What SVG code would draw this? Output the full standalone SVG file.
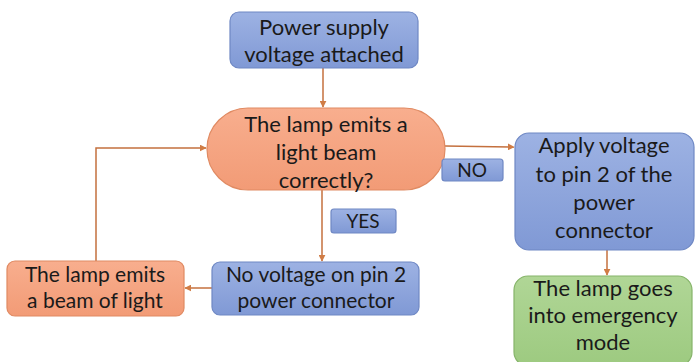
<svg xmlns="http://www.w3.org/2000/svg" width="696" height="362" viewBox="0 0 696 362">
<defs>
<linearGradient id="gBlue" x1="0" y1="0" x2="0" y2="1"><stop offset="0" stop-color="#9DB2E3"/><stop offset="1" stop-color="#8099D5"/></linearGradient>
<linearGradient id="gOrange" x1="0" y1="0" x2="0" y2="1"><stop offset="0" stop-color="#F8AE8E"/><stop offset="1" stop-color="#F29B76"/></linearGradient>
<linearGradient id="gGreen" x1="0" y1="0" x2="0" y2="1"><stop offset="0" stop-color="#B0D696"/><stop offset="1" stop-color="#9DCA80"/></linearGradient>
<marker id="arr" viewBox="0 0 10 10" refX="9" refY="5" markerWidth="7" markerHeight="7" orient="auto" markerUnits="userSpaceOnUse"><path d="M0,0 L10,5 L0,10 z" fill="#D07C45"/></marker>
<style>
.blue{fill:url(#gBlue);stroke:#6F88C4;stroke-width:1.2}
.orange{fill:url(#gOrange);stroke:#E08A62;stroke-width:1.2}
.green{fill:url(#gGreen);stroke:#86B46A;stroke-width:1.2}
.t{font-family:Lato,"Open Sans",sans-serif;font-size:22px;fill:#1A1A1A;text-anchor:middle}
.t2{font-family:Lato,"Open Sans",sans-serif;font-size:21px;fill:#1A1A1A;text-anchor:middle}
.s{font-family:Lato,"Open Sans",sans-serif;font-size:19px;fill:#1A1A1A;text-anchor:middle}
.c{fill:none;stroke:#C4703E;stroke-width:1.5}
</style>
</defs>
<g id="connectors">
<line class="c" x1="323" y1="68" x2="323" y2="107" marker-end="url(#arr)"/>
<line class="c" x1="445" y1="146" x2="514" y2="147" marker-end="url(#arr)"/>
<line class="c" x1="322" y1="190" x2="322" y2="261" marker-end="url(#arr)"/>
<line class="c" x1="212" y1="288" x2="185" y2="288" marker-end="url(#arr)"/>
<polyline class="c" points="96,261 96,148 206,148" marker-end="url(#arr)"/>
<line class="c" x1="607" y1="250" x2="607" y2="275" marker-end="url(#arr)"/>
</g>
<g id="n1"><rect class="blue" x="230" y="12" width="188" height="56" rx="9"/><text class="t" x="324" y="35">Power supply</text><text class="t" x="324" y="62">voltage attached</text></g>
<g id="n2"><rect class="orange" x="207" y="108" width="238" height="82" rx="41"/><text class="t" x="326" y="132">The lamp emits a</text><text class="t" x="326" y="160">light beam</text><text class="t" x="326" y="188">correctly?</text></g>
<g id="lblNo"><rect class="blue" x="442" y="159" width="61" height="22" rx="3"/><text class="s" x="472" y="177">NO</text></g>
<g id="n3"><rect class="blue" x="515" y="133" width="179" height="117" rx="14"/><text class="t" x="604" y="153">Apply voltage</text><text class="t" x="604" y="182">to pin 2 of the</text><text class="t" x="604" y="210">power</text><text class="t" x="604" y="238">connector</text></g>
<g id="lblYes"><rect class="blue" x="331" y="209" width="65" height="24" rx="3"/><text class="s" x="363" y="228">YES</text></g>
<g id="n4"><rect class="blue" x="212" y="262" width="207" height="53" rx="8"/><text class="t2" x="316" y="282">No voltage on pin 2</text><text class="t2" x="316" y="308">power connector</text></g>
<g id="n5"><rect class="orange" x="7" y="261" width="177" height="55" rx="8"/><text class="t2" x="95" y="282">The lamp emits</text><text class="t2" x="95" y="308">a beam of light</text></g>
<g id="n6"><rect class="green" x="514" y="276" width="178" height="90" rx="14"/><text class="t" x="603" y="296">The lamp goes</text><text class="t" x="603" y="323">into emergency</text><text class="t" x="603" y="350">mode</text></g>
</svg>
